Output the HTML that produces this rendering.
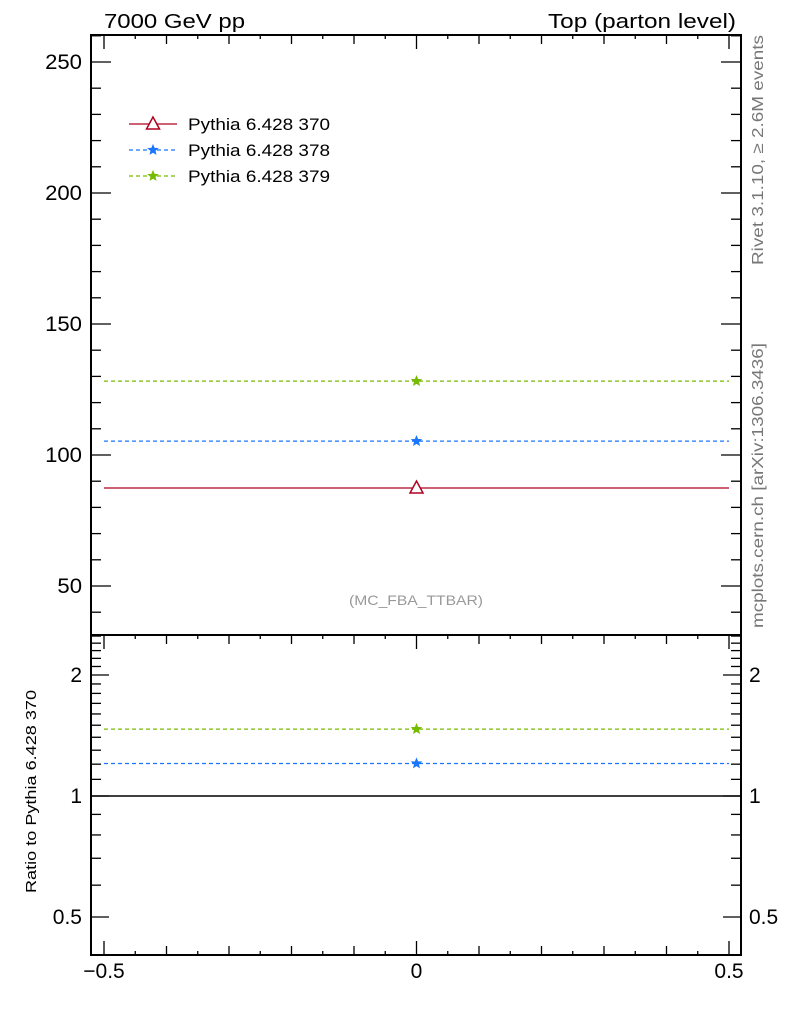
<!DOCTYPE html>
<html><head><meta charset="utf-8"><style>
body{margin:0;background:#fff}
svg{display:block;font-family:"Liberation Sans",sans-serif}
</style></head><body>
<svg id="c" width="786" height="1024" xmlns="http://www.w3.org/2000/svg">
<text x="104" y="28" font-size="20" textLength="141" lengthAdjust="spacingAndGlyphs">7000 GeV pp</text>
<text x="548" y="28" font-size="20" textLength="188" lengthAdjust="spacingAndGlyphs">Top (parton level)</text>
<text x="349" y="605" font-size="14" fill="#999" textLength="134" lengthAdjust="spacingAndGlyphs">(MC_FBA_TTBAR)</text>
<text transform="translate(763,265) rotate(-90)" font-size="16" fill="#777" textLength="230" lengthAdjust="spacingAndGlyphs">Rivet 3.1.10, ≥ 2.6M events</text>
<text transform="translate(763,628) rotate(-90)" font-size="16" fill="#777" textLength="285" lengthAdjust="spacingAndGlyphs">mcplots.cern.ch [arXiv:1306.3436]</text>
<text transform="translate(36,893) rotate(-90)" font-size="15" textLength="203" lengthAdjust="spacingAndGlyphs">Ratio to Pythia 6.428 370</text>
<g id="main"></g><g id="ratio"></g><g id="legend"></g>
</svg>
<script>
const seriesNames=["Pythia 6.428 370","Pythia 6.428 378","Pythia 6.428 379"];
const seriesValues=[87.4,105.3,128.2];
const seriesColors=["#b00020","#1a75ff","#77bb00"];
const xEdges=[-0.5,0.5];
const xCenter=[0];
const mainTicks=[50,100,150,200,250];
const ratioTicks=[0.5,1,2];
const xTicks=[-0.5,0,0.5];
const NS="http://www.w3.org/2000/svg";
const L=91,R=741,T1=35,B1=635,B2=955;
const X=v=>416.5+v*625;
const Y1=v=>T1+(260.3-v)/(260.3-31.3)*(B1-T1);
const Y2=v=>796-Math.log2(v)*121;
function mk(tag,at,parent){const e=document.createElementNS(NS,tag);for(const k in at)e.setAttribute(k,at[k]);(parent||document.getElementById('c')).appendChild(e);return e;}
const gm=document.getElementById('main'),gr=document.getElementById('ratio'),gl=document.getElementById('legend');
let f1=mk('rect',{x:L,y:T1,width:R-L,height:B1-T1,fill:'none',stroke:'#000','stroke-width':2},gm);


let f2=mk('rect',{x:L,y:B1,width:R-L,height:B2-B1,fill:'none',stroke:'#000','stroke-width':2},gr);


for(let v=40;v<=260;v+=10){const y=Y1(v);if(y<T1||y>B1)continue;const len=v%50===0?20:10;
mk('line',{x1:L,x2:L+len,y1:y,y2:y,stroke:'#000','stroke-width':1.3},gm);mk('line',{x1:R,x2:R-len,y1:y,y2:y,stroke:'#000','stroke-width':1.3},gm);}
mainTicks.forEach(v=>{const s=String(v);const t=mk('text',{x:82-(s.length*12.3),y:Y1(v)+7,'font-size':21,textLength:s.length*12.3,lengthAdjust:'spacingAndGlyphs'},gm);t.textContent=s;

});
for(let v=0.4;v<=2.55;v+=0.1){const y=Y2(v);if(y<B1||y>B2)continue;const r=Math.round(v*10);const len=(r===5||r===10||r===20)?18:10;
mk('line',{x1:L,x2:L+len,y1:y,y2:y,stroke:'#000','stroke-width':1.3},gr);mk('line',{x1:R,x2:R-len,y1:y,y2:y,stroke:'#000','stroke-width':1.3},gr);}
ratioTicks.forEach(v=>{const t=mk('text',{x:L-9,y:Y2(v)+7,'font-size':21,'text-anchor':'end'},gr);t.textContent=v;


const t2=mk('text',{x:R+8,y:Y2(v)+7,'font-size':21},gr);t2.textContent=v;

});
for(let i=-10;i<=10;i++){const v=i*0.05;const x=X(v);const len=i%10===0?14:(i%2===0?9:4);
[[B1,1],[B2,-1],[T1,1]].forEach(([y,d])=>{mk('line',{x1:x,x2:x,y1:y,y2:y+d*len,stroke:'#000','stroke-width':1.3},gm);});}
xTicks.forEach(v=>{const t=mk('text',{x:X(v),y:978,'font-size':21,'text-anchor':'middle'},gr);t.textContent=(v<0?'\u2212':'')+Math.abs(v);

});
let rl=mk('line',{x1:L,x2:R,y1:Y2(1),y2:Y2(1),stroke:'#000','stroke-width':1.5},gr);


function star(cx,cy,r,col,parent){let p='';for(let i=0;i<10;i++){const a=-Math.PI/2+i*Math.PI/5;const rr=i%2?r*0.45:r;p+=(i?'L':'M')+(cx+rr*Math.cos(a)).toFixed(1)+','+(cy+rr*Math.sin(a)).toFixed(1);}return mk('path',{d:p+'Z',fill:col,stroke:col,'stroke-width':0.8},parent);}
function tri(cx,cy,col,parent){return mk('path',{d:`M${cx},${cy-7}L${cx+6.5},${cy+5}L${cx-6.5},${cy+5}Z`,fill:'#fff',stroke:col,'stroke-width':1.5},parent);}
seriesValues.forEach((v,i)=>{const col=seriesColors[i];const dash=i?'4,3':'none';
const y=Y1(v);
const ln=mk('line',{x1:X(xEdges[0]),x2:X(xEdges[1]),y1:y,y2:y,stroke:col,'stroke-width':1.3,'stroke-dasharray':dash},gm);


const m=i?star(X(xCenter[0]),y,5,col,gm):tri(X(xCenter[0]),y,col,gm);


if(i){const rv=v/seriesValues[0];const yr=Y2(rv);
const l2=mk('line',{x1:X(xEdges[0]),x2:X(xEdges[1]),y1:yr,y2:yr,stroke:col,'stroke-width':1.3,'stroke-dasharray':dash},gr);


const m2=star(X(xCenter[0]),yr,5,col,gr);

}
const ly=124+i*26;
const ll=mk('line',{x1:129,x2:177,y1:ly,y2:ly,stroke:col,'stroke-width':1.3,'stroke-dasharray':dash},gl);


if(i)star(153,ly,5,col,gl);else tri(153,ly,col,gl);
const lt=mk('text',{x:188,y:ly+6,'font-size':17,textLength:142,lengthAdjust:'spacingAndGlyphs'},gl);lt.textContent=seriesNames[i];

});
</script>
</body></html>
